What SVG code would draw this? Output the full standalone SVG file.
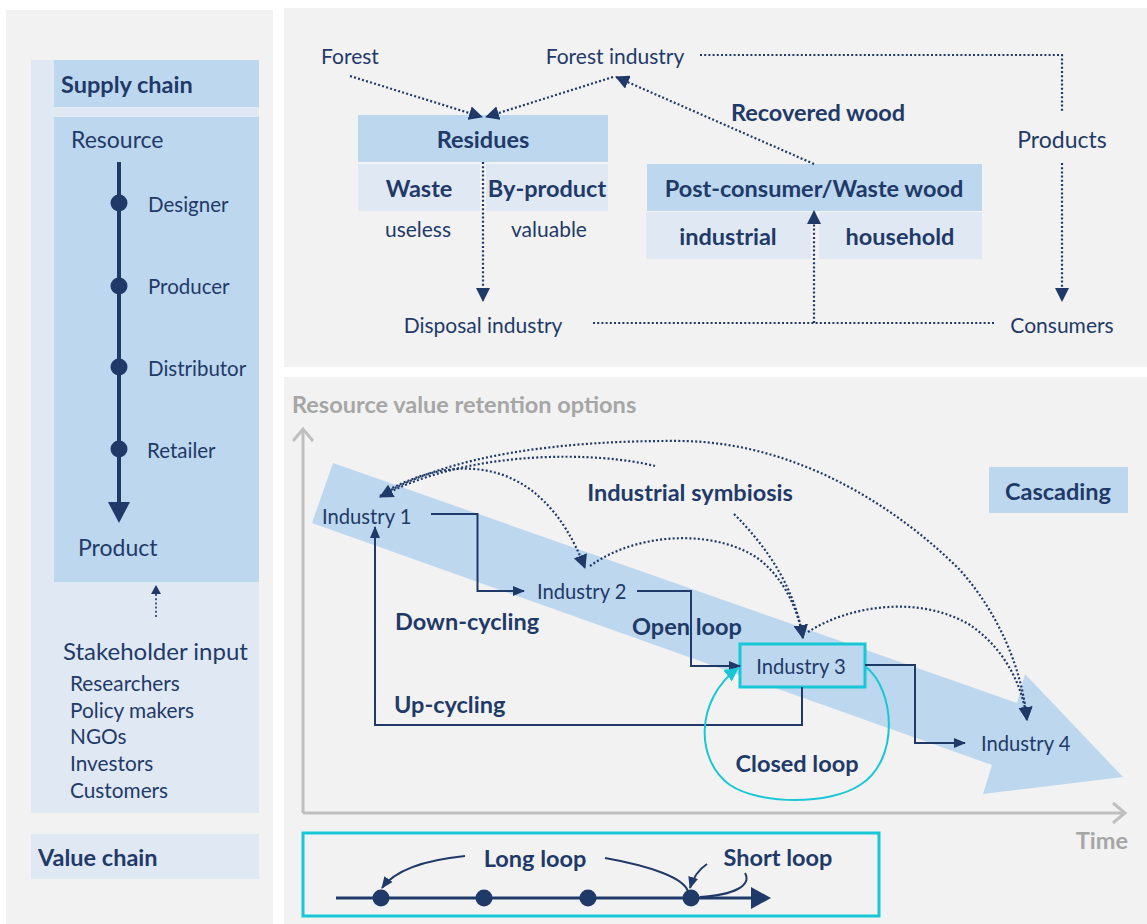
<svg xmlns="http://www.w3.org/2000/svg" width="1147" height="924" viewBox="0 0 1147 924">
<style>
text{font-family:Lato,"Open Sans",sans-serif;fill:#1f3a68;dominant-baseline:central}
.r{font-size:21px}
.b{font-weight:bold;font-size:23.5px}
.bs{font-weight:bold;font-size:23.5px}
.s{font-size:20.2px}
.l1{font-size:23px}
.l2{font-size:20.5px}
.m{text-anchor:middle}
.g{fill:#a6a6a6}
.dot{fill:none;stroke:#1f3a68;stroke-width:2.2;stroke-dasharray:2 2.2}
.ln{fill:none;stroke:#1f3a68;stroke-width:2}
.ax{fill:none;stroke:#bfbfbf;stroke-width:3}
.nv{fill:#1f3a68}
</style>
<defs>
<marker id="ah" markerUnits="userSpaceOnUse" markerWidth="14" markerHeight="14" viewBox="0 0 14 14" refX="13" refY="7" orient="auto"><path d="M0,0L14,7L0,14Z" fill="#1f3a68"/></marker>
<marker id="as" markerUnits="userSpaceOnUse" markerWidth="12" markerHeight="12" viewBox="0 0 12 12" refX="11" refY="6" orient="auto"><path d="M0,1L12,6L0,11Z" fill="#1f3a68"/></marker>
<marker id="ac" markerUnits="userSpaceOnUse" markerWidth="14" markerHeight="14" viewBox="0 0 14 14" refX="13" refY="7" orient="auto"><path d="M0,0L14,7L0,14Z" fill="#17c7d6"/></marker>
</defs>
<rect width="1147" height="924" fill="#ffffff"/>
<!-- panels -->
<rect x="6" y="10" width="267" height="914" fill="#f2f2f2"/>
<rect x="284" y="8" width="863" height="359" fill="#f2f2f2"/>
<rect x="284" y="377" width="863" height="547" fill="#f2f2f2"/>

<!-- left panel -->
<g id="value-chain-box">
<rect x="31" y="60" width="228" height="753" fill="#dfe8f3"/>
</g>
<g id="supply-chain">
<rect x="54" y="60" width="205" height="47" fill="#bdd7ee"/>
<text class="bs" x="61" y="84">Supply chain</text>
</g>
<g id="resource-chain">
<rect x="54" y="117" width="205" height="465" fill="#bdd7ee"/>
<text class="l1" x="71" y="139">Resource</text>
<line x1="119" y1="162" x2="119" y2="505" stroke="#1f3a68" stroke-width="4"/>
<path class="nv" d="M108,502L130,502L119,523Z"/>
<circle class="nv" cx="119" cy="203" r="8.5"/>
<circle class="nv" cx="119" cy="286" r="8.5"/>
<circle class="nv" cx="119" cy="367" r="8.5"/>
<circle class="nv" cx="119" cy="449" r="8.5"/>
<text class="l2" x="148" y="204">Designer</text>
<text class="l2" x="148" y="286">Producer</text>
<text class="l2" x="148" y="368">Distributor</text>
<text class="l2" x="147" y="450">Retailer</text>
<text class="l1" x="78" y="547">Product</text>
</g>
<g id="stakeholders">
<line class="dot" x1="156" y1="617" x2="156" y2="592" style="stroke-width:1.6"/>
<path class="nv" d="M151,594L161,594L156,585Z"/>
<text class="l1" x="63" y="650" style="font-size:24px">Stakeholder input</text>
<text class="l2" x="70" y="682" style="font-size:20.8px">Researchers</text>
<text class="l2" x="70" y="709" style="font-size:20.8px">Policy makers</text>
<text class="l2" x="70" y="735" style="font-size:20.8px">NGOs</text>
<text class="l2" x="70" y="762" style="font-size:20.8px">Investors</text>
<text class="l2" x="70" y="789" style="font-size:20.8px">Customers</text>
</g>
<g id="value-chain">
<rect x="31" y="834" width="228" height="45" fill="#dfe8f3"/>
<text class="bs" x="38" y="857">Value chain</text>
</g>

<!-- top panel nodes -->
<g id="forest"><text class="r m" x="350" y="55">Forest</text></g>
<g id="forest-industry"><text class="r m" x="615" y="55">Forest industry</text></g>
<g id="products"><text class="r m" x="1062" y="139" style="font-size:23px">Products</text></g>
<g id="consumers"><text class="r m" x="1062" y="324">Consumers</text></g>
<g id="disposal"><text class="r m" x="483" y="324">Disposal industry</text></g>
<g id="residues">
<rect x="358" y="115" width="250" height="47" fill="#bdd7ee"/>
<rect x="358" y="164" width="122" height="47" fill="#dfe8f3"/>
<rect x="486" y="164" width="122" height="47" fill="#dfe8f3"/>
<text class="b m" x="483" y="139">Residues</text>
<text class="b m" x="419" y="188">Waste</text>
<text class="b m" x="547" y="188">By-product</text>
<text class="r m" x="418" y="228">useless</text>
<text class="r m" x="549" y="228">valuable</text>
</g>
<g id="post-consumer">
<rect x="647" y="164" width="335" height="47" fill="#bdd7ee"/>
<rect x="646" y="212" width="165" height="47" fill="#dfe8f3"/>
<rect x="819" y="212" width="163" height="47" fill="#dfe8f3"/>
<text class="b m" x="814" y="188">Post-consumer/Waste wood</text>
<text class="b m" x="728" y="236">industrial</text>
<text class="b m" x="900" y="236">household</text>
</g>
<g id="recovered-label"><text class="b m" x="818" y="112">Recovered wood</text></g>

<g id="top-connectors">
<path class="dot" d="M350,76L482,117" marker-end="url(#ah)"/>
<path class="dot" d="M613,77L486,117" marker-end="url(#ah)"/>
<path class="dot" d="M814,164L616,77" marker-end="url(#ah)"/>
<path class="dot" d="M483,162L483,301" marker-end="url(#ah)"/>
<path class="dot" d="M700,55L1062,55L1062,113"/>
<path class="dot" d="M1062,163L1062,301" marker-end="url(#ah)"/>
<path class="dot" d="M593,323L995,323"/>
<path class="dot" d="M814,323L814,211" marker-end="url(#ah)"/>
</g>

<!-- bottom panel -->
<g id="band">
<polygon points="333,463 1017,703 1025,674 1123,777 983,794 992,765 312,523" fill="#bdd7ee"/>
</g>
<g id="axes">
<line class="ax" x1="303" y1="813" x2="303" y2="430"/>
<polyline class="ax" points="293,441 303,429 313,441"/>
<line class="ax" x1="303" y1="813" x2="1124" y2="813"/>
<polyline class="ax" points="1113,803 1125,813 1113,823"/>
<text class="bs g" x="292" y="404">Resource value retention options</text>
<text class="bs g" x="1128" y="840" style="text-anchor:end">Time</text>
</g>
<g id="cascading">
<rect x="989" y="467" width="139" height="46" fill="#bdd7ee"/>
<text class="bs m" x="1058" y="491">Cascading</text>
</g>
<g id="industry1"><text class="s" x="322" y="516">Industry 1</text></g>
<g id="industry2"><text class="s" x="537" y="591">Industry 2</text></g>
<g id="industry3">
<rect x="740" y="644" width="125" height="43" fill="#bdd7ee" stroke="#17c7d6" stroke-width="3"/>
<text class="s m" x="801" y="666">Industry 3</text>
</g>
<g id="industry4"><text class="s" x="981" y="743">Industry 4</text></g>
<g id="labels">
<text class="bs m" x="690" y="492">Industrial symbiosis</text>
<text class="bs" x="395" y="621">Down-cycling</text>
<text class="bs" x="632" y="626">Open loop</text>
<text class="bs" x="394" y="704">Up-cycling</text>
<text class="bs m" x="797" y="763">Closed loop</text>
</g>

<g id="bottom-connectors">
<path class="ln" d="M431,514L477.5,514L477.5,591L524,591" marker-end="url(#as)"/>
<path class="ln" d="M637,591L691,591L691,666L740,666" marker-end="url(#as)"/>
<path class="ln" d="M865,665L915,665L915,743L965,743" marker-end="url(#as)"/>
<path class="ln" d="M802,687L802,725L375,725L375,527" marker-end="url(#as)"/>
<path d="M866,667C895,690 900,760 860,785C830,805 760,805 730,785C695,760 695,700 738,668" fill="none" stroke="#17c7d6" stroke-width="2" marker-end="url(#ac)"/>
<path class="dot" d="M655,466C600,452 470,448 380,497" marker-end="url(#ah)"/>
<path class="dot" d="M380,496C450,455 560,440 683,441C800,443 900,510 960,570C1000,615 1022,670 1027,720" marker-end="url(#ah)"/>
<path class="dot" d="M385,492C450,455 540,450 585,568" marker-end="url(#ah)"/>
<path class="dot" d="M590,566C640,530 720,530 760,560C785,580 798,610 803,638" marker-end="url(#ah)"/>
<path class="dot" d="M734,514C770,550 795,590 803,638" marker-end="url(#ah)"/>
<path class="dot" d="M808,632C850,605 920,595 970,625C1000,645 1022,680 1027,720" marker-end="url(#ah)"/>
</g>

<g id="loop-legend">
<rect x="303" y="833" width="576" height="83" fill="none" stroke="#17c7d6" stroke-width="3"/>
<line x1="336" y1="898" x2="755" y2="898" stroke="#1f3a68" stroke-width="3"/>
<path class="nv" d="M751,887L771,898L751,909Z"/>
<circle class="nv" cx="381" cy="898" r="8.5"/>
<circle class="nv" cx="484" cy="898" r="8.5"/>
<circle class="nv" cx="588" cy="898" r="8.5"/>
<circle class="nv" cx="691" cy="898" r="8.5"/>
<text class="bs m" x="535" y="858">Long loop</text>
<text class="bs m" x="778" y="857">Short loop</text>
<path class="ln" d="M465,856C425,860 395,870 382,888" marker-end="url(#as)"/>
<path class="ln" d="M605,858C650,866 685,878 688,892"/>
<path class="ln" d="M707,864C698,870 693,878 690,888" marker-end="url(#as)"/>
<path class="ln" d="M700,897C735,895 752,885 745,873"/>
</g>
</svg>
